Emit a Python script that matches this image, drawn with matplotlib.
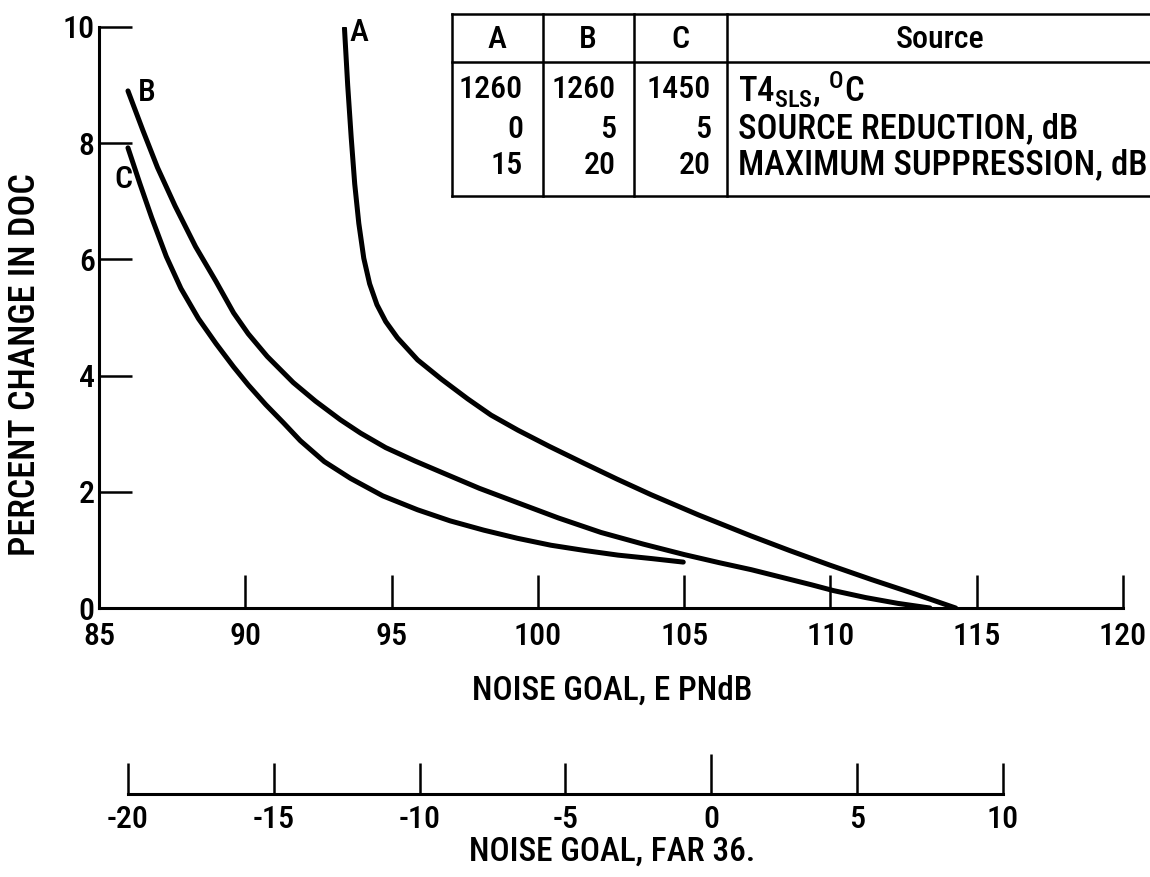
import matplotlib
matplotlib.use("Agg")
import matplotlib.pyplot as plt
from matplotlib import font_manager
from matplotlib.lines import Line2D

# ---------------- data ----------------
a_x = [93.39, 93.50, 93.62, 93.74, 93.88, 94.05, 94.25, 94.50, 94.80, 95.20, 95.89,
       96.70, 97.60, 98.40, 99.32, 100.40, 101.58, 102.70, 103.87, 105.50, 107.29,
       108.60, 109.97, 111.40, 112.90, 114.28]
a_y = [9.98, 9.00, 8.10, 7.30, 6.62, 6.02, 5.58, 5.22, 4.93, 4.65, 4.27,
       3.94, 3.60, 3.32, 3.06, 2.78, 2.49, 2.22, 1.95, 1.60, 1.24,
       0.99, 0.74, 0.49, 0.24, 0.0]

b_x = [85.99, 86.50, 87.00, 87.60, 88.30, 89.00, 89.60, 90.10, 90.75, 91.64, 92.40,
       93.25, 93.94, 94.80, 95.80, 96.78, 98.00, 99.32, 100.70, 102.16, 103.60,
       105.00, 106.20, 107.29, 108.40, 109.35, 110.10, 111.20, 112.30, 113.40]
b_y = [8.90, 8.22, 7.58, 6.92, 6.22, 5.62, 5.08, 4.72, 4.33, 3.88, 3.56,
       3.24, 3.01, 2.76, 2.53, 2.32, 2.06, 1.81, 1.55, 1.30, 1.10,
       0.92, 0.78, 0.66, 0.52, 0.40, 0.30, 0.18, 0.08, 0.0]

c_x = [85.99, 86.40, 86.80, 87.30, 87.80, 88.40, 89.00, 89.60, 90.10, 90.70, 91.30,
       91.88, 92.70, 93.60, 94.70, 95.89, 97.00, 98.15, 99.30, 100.45, 101.60,
       102.74, 103.90, 104.97]
c_y = [7.92, 7.30, 6.72, 6.05, 5.50, 4.98, 4.55, 4.15, 3.84, 3.50, 3.19,
       2.88, 2.52, 2.23, 1.93, 1.69, 1.50, 1.34, 1.20, 1.08, 0.99,
       0.91, 0.85, 0.79]

x_ticks = [85, 90, 95, 100, 105, 110, 115, 120]
y_ticks = [0, 2, 4, 6, 8, 10]
far_ticks = [-20, -15, -10, -5, 0, 5, 10]
far_labels = ["-20", "-15", "-10", "-5", "0", "5", "10"]

curve_names = ["A", "B", "C"]
label_pos_x = [93.87, 86.64, 85.82]
label_pos_y = [9.91, 8.88, 7.37]

table_header = ["A", "B", "C", "Source"]
table_a = ["1260", "0", "15"]
table_b = ["1260", "5", "20"]
table_c = ["1450", "5", "20"]
table_source = ["T4$_{SLS}$, $^{O}$C", "SOURCE REDUCTION, dB", "MAXIMUM SUPPRESSION, dB"]

# ---------------- fonts ----------------
fonts = font_manager.fontManager.ttflist
names = {f.name for f in fonts}
FAM = None
for cand in ["Liberation Sans Narrow", "Roboto Condensed", "Open Sans Condensed",
             "Noto Sans Condensed", "DejaVu Sans Condensed"]:
    if cand in names:
        FAM = [cand, "DejaVu Sans"]
        break
if FAM is None:
    cond = [f for f in fonts if f.stretch in ("condensed", "semi-condensed", 500, 600)
            or "Condensed" in f.fname or "Narrow" in f.fname]
    if cond:
        plt.rcParams["font.stretch"] = "condensed"
        FAM = [cond[0].name, "DejaVu Sans"]
    else:
        FAM = ["DejaVu Sans"]
plt.rcParams["font.family"] = FAM
plt.rcParams["font.weight"] = "bold"
plt.rcParams["mathtext.default"] = "regular"
plt.rcParams["axes.unicode_minus"] = False

W, H = 1150, 877
fig = plt.figure(figsize=(W / 100, H / 100), dpi=100)

def fx(px):
    return px / W

def fy(py):
    return 1 - py / H

TS = 23   # tick label size
LS = 24   # axis label size
FW = "medium"

# ---------------- main axes ----------------
ax = fig.add_axes([fx(99), fy(608), fx(1123) - fx(99), fy(27) - fy(608)])
lw_curve = 3.6
for xs, ys in [(a_x, a_y), (b_x, b_y), (c_x, c_y)]:
    ax.plot(xs, ys, color="black", lw=lw_curve, solid_capstyle="round",
            solid_joinstyle="round")
for n, lx, ly in zip(curve_names, label_pos_x, label_pos_y):
    ax.text(lx, ly, n, fontsize=TS, ha="center", va="center", fontweight=FW)

ax.set_xlim(85, 120)
ax.set_ylim(0, 10)
for s in ["top", "right"]:
    ax.spines[s].set_visible(False)
for s in ["left", "bottom"]:
    ax.spines[s].set_linewidth(2.2)
ax.set_xticks(x_ticks)
ax.set_yticks(y_ticks)
ax.tick_params(axis="x", direction="in", length=24, width=1.8, pad=10, labelsize=TS)
ax.tick_params(axis="y", direction="in", length=24, width=1.8, pad=3, labelsize=TS)
for lab in ax.get_xticklabels() + ax.get_yticklabels():
    lab.set_fontweight(FW)
ax.set_facecolor("none")

fig.text(0.532, fy(691), "NOISE GOAL, E PNdB", fontsize=LS, ha="center", va="center",
         fontweight=FW)
fig.text(fx(25), fy(365), "PERCENT CHANGE IN DOC", fontsize=26, ha="center",
         va="center", rotation=90, fontweight=FW)

# ---------------- FAR 36 axis ----------------
ax2 = fig.add_axes([fx(128), fy(794), fx(1003) - fx(128), 0.05])
ax2.set_xlim(-20, 10)
ax2.set_ylim(0, 1)
for s in ["top", "right", "left"]:
    ax2.spines[s].set_visible(False)
ax2.spines["bottom"].set_linewidth(2.2)
ax2.set_yticks([])
ax2.set_xticks(far_ticks)
ax2.set_xticklabels(far_labels)
ax2.tick_params(axis="x", direction="in", length=22, width=1.8, pad=8, labelsize=TS)
ax2.xaxis.get_major_ticks()[4].tick1line.set_markersize(29)
for lab in ax2.get_xticklabels():
    lab.set_fontweight(FW)
ax2.set_facecolor("none")
fig.text(0.532, fy(852), "NOISE GOAL, FAR 36.", fontsize=LS, ha="center", va="center",
         fontweight=FW)

# ---------------- table ----------------
t_left, t_right = 452, 1149
t_top, t_mid, t_bot = 14, 62, 196
col_seps = [543, 634, 727]
tlw = 1.8
for py in [t_top, t_mid, t_bot]:
    fig.add_artist(Line2D([fx(t_left), fx(t_right)], [fy(py), fy(py)], color="black", lw=tlw))
for px in [t_left] + col_seps:
    fig.add_artist(Line2D([fx(px), fx(px)], [fy(t_top), fy(t_bot)], color="black", lw=tlw))

head_x = [497, 588, 680, 940]
for hx, h in zip(head_x, table_header):
    fig.text(fx(hx), fy(39), h, fontsize=TS, ha="center", va="center", fontweight=FW)
row_y = [90, 129, 165]
num_right = [523, 616, 711]
for col, rx in zip([table_a, table_b, table_c], num_right):
    for val, ry in zip(col, row_y):
        fig.text(fx(rx), fy(ry), val, fontsize=TS, ha="right", va="center", fontweight=FW)
for txt, ry in zip(table_source, row_y):
    fig.text(fx(738), fy(ry), txt, fontsize=25, ha="left", va="center", fontweight=FW)

fig.savefig("out.png", dpi=100, facecolor="white")
